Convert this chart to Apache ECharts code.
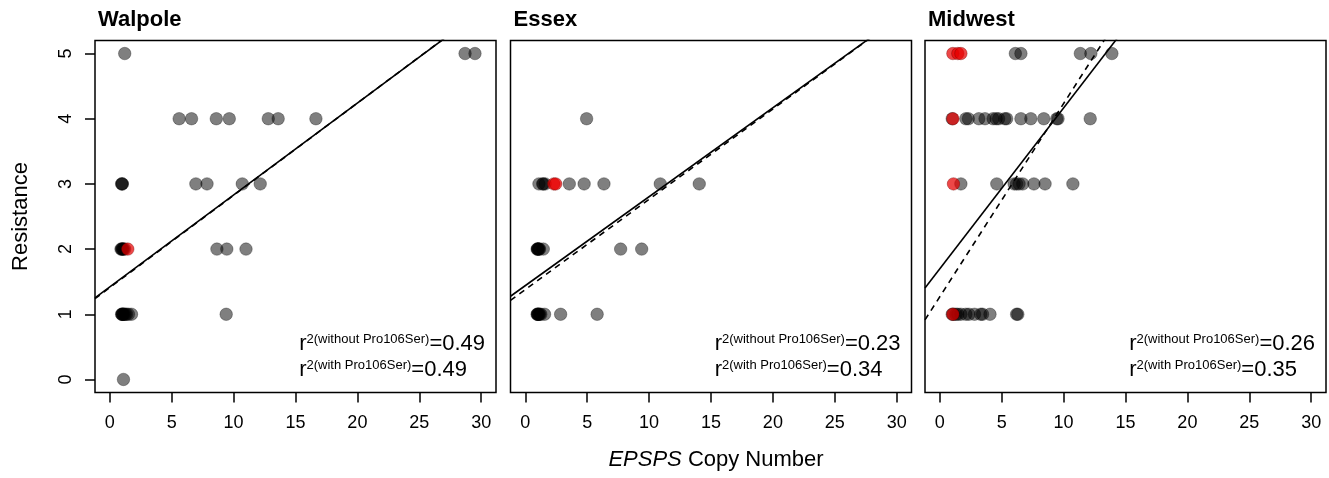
<!DOCTYPE html>
<html>
<head>
<meta charset="utf-8">
<script src="https://cdn.jsdelivr.net/npm/echarts@6/dist/echarts.min.js"></script>
<style>
  html, body { margin: 0; padding: 0; background: #fff; }
  #main { width: 1329px; height: 478px; }
</style>
</head>
<body>
<div id="main"></div>
<script>
// panels
var panelNames = ['Walpole', 'Essex', 'Midwest'];

// axis ticks / limits
var xTicks = [0, 5, 10, 15, 20, 25, 30];
var yTicks = [0, 1, 2, 3, 4, 5];
var xLim = [-1.2, 31.2];
var yLim = [-0.2, 5.2];

// EPSPS copy number vs resistance, gray = other plants, red = Pro106Ser
var walpoleGray = [
  [1.2, 5], [28.7, 5], [29.5, 5],
  [5.6, 4], [6.6, 4], [8.6, 4], [9.65, 4], [12.8, 4], [13.6, 4], [16.65, 4],
  [0.95, 3], [1.0, 3], [1.0, 3], [6.95, 3], [7.85, 3], [10.7, 3], [12.15, 3],
  [0.9, 2], [0.95, 2], [1.0, 2], [1.05, 2], [1.1, 2], [1.2, 2], [8.65, 2], [9.45, 2], [11.0, 2],
  [0.95, 1], [1.0, 1], [1.0, 1], [1.05, 1], [1.1, 1], [1.15, 1], [1.25, 1], [1.35, 1], [1.5, 1], [1.75, 1], [9.4, 1],
  [1.1, 0]
];
var walpoleRed = [[1.45, 2]];

var essexGray = [
  [4.95, 4],
  [1.1, 3], [1.4, 3], [1.45, 3], [1.6, 3], [3.55, 3], [4.75, 3], [6.35, 3], [10.9, 3], [14.05, 3],
  [0.95, 2], [1.0, 2], [1.0, 2], [1.05, 2], [1.1, 2], [1.15, 2], [1.45, 2], [7.7, 2], [9.4, 2],
  [0.95, 1], [1.0, 1], [1.0, 1], [1.05, 1], [1.1, 1], [1.15, 1], [1.25, 1], [1.55, 1], [2.85, 1], [5.8, 1]
];
var essexRed = [[2.3, 3], [2.45, 3]];

var midwestGray = [
  [6.1, 5], [6.55, 5], [11.35, 5], [12.2, 5], [13.9, 5],
  [1.0, 4], [2.1, 4], [2.3, 4], [3.15, 4], [3.65, 4], [4.3, 4], [4.55, 4], [4.75, 4], [5.25, 4], [5.4, 4],
  [6.55, 4], [7.35, 4], [8.4, 4], [9.45, 4], [9.55, 4], [12.15, 4],
  [1.7, 3], [4.6, 3], [6.0, 3], [6.2, 3], [6.4, 3], [6.7, 3], [7.6, 3], [8.5, 3], [10.75, 3],
  [1.0, 1], [1.1, 1], [1.3, 1], [1.45, 1], [1.7, 1], [2.1, 1], [2.35, 1], [2.8, 1], [3.3, 1], [3.45, 1], [4.05, 1], [6.2, 1], [6.3, 1]
];
var midwestRed = [[1.05, 5], [1.45, 5], [1.7, 5], [1.05, 4], [1.1, 3], [1.05, 1]];

// regression fits: [intercept, slope]
var fitWithout = [[1.42, 0.141], [1.44, 0.1364], [1.70, 0.2466]];
var fitWith = [[1.41, 0.1415], [1.38, 0.1384], [1.27, 0.2963]];

// r2 labels
var r2Without = ['0.49', '0.23', '0.26'];
var r2With = ['0.49', '0.34', '0.35'];

var grayData = [walpoleGray, essexGray, midwestGray];
var redData = [walpoleRed, essexRed, midwestRed];

var FONT = '"Liberation Sans", Arial, Helvetica, sans-serif';
var gridLefts = [95, 510.5, 925];

function fitLine(c) {
  return [[xLim[0], c[0] + c[1] * xLim[0]], [xLim[1], c[0] + c[1] * xLim[1]]];
}

var grids = [], xAxes = [], yAxes = [], series = [], titles = [];
for (var i = 0; i < 3; i++) {
  grids.push({
    left: gridLefts[i], top: 40.5, width: 401, height: 352,
    show: true, borderColor: '#000', borderWidth: 1.5, backgroundColor: 'transparent'
  });
  titles.push({
    text: panelNames[i], left: gridLefts[i] + 3, top: 9, padding: 0,
    textStyle: { fontFamily: FONT, fontSize: 22, fontWeight: 'bold', color: '#000' }
  });
  var xa = {
    type: 'value', gridIndex: i, min: xLim[0], max: xLim[1], position: 'bottom',
    axisLine: { show: false, onZero: false },
    splitLine: { show: false },
    axisTick: { show: true, inside: false, length: 10, customValues: xTicks, lineStyle: { color: '#000', width: 1.5 } },
    axisLabel: { customValues: xTicks, margin: 22, fontFamily: FONT, fontSize: 18, color: '#000' }
  };
  if (i === 1) {
    xa.name = '{i|EPSPS} Copy Number';
    xa.nameLocation = 'middle';
    xa.nameGap = 56;
    xa.nameTextStyle = {
      fontFamily: FONT, fontSize: 22, color: '#000', padding: [0, 0, 0, 10],
      rich: { i: { fontFamily: FONT, fontSize: 22, fontStyle: 'italic', color: '#000' } }
    };
  }
  xAxes.push(xa);
  var ya = {
    type: 'value', gridIndex: i, min: yLim[0], max: yLim[1], position: 'left',
    axisLine: { show: false, onZero: false },
    splitLine: { show: false },
    axisTick: { show: i === 0, inside: false, length: 10, customValues: yTicks, lineStyle: { color: '#000', width: 1.5 } },
    axisLabel: { show: i === 0, customValues: yTicks, rotate: 90, margin: 20, fontFamily: FONT, fontSize: 18, color: '#000' }
  };
  if (i === 0) {
    ya.name = 'Resistance';
    ya.nameLocation = 'middle';
    ya.nameGap = 63;
    ya.nameTextStyle = { fontFamily: FONT, fontSize: 22, color: '#000' };
  }
  yAxes.push(ya);

  series.push({
    type: 'scatter', xAxisIndex: i, yAxisIndex: i, data: grayData[i],
    symbolSize: 12.5, z: 2,
    itemStyle: { color: 'rgba(0,0,0,0.5)', borderColor: 'rgba(0,0,0,0.3)', borderWidth: 1, opacity: 1 },
    emphasis: { disabled: true }, silent: true
  });
  series.push({
    type: 'scatter', xAxisIndex: i, yAxisIndex: i, data: redData[i],
    symbolSize: 12.5, z: 3,
    itemStyle: { color: 'rgba(230,0,0,0.72)', borderColor: 'rgba(110,0,0,0.35)', borderWidth: 1, opacity: 1 },
    emphasis: { disabled: true }, silent: true
  });
  series.push({
    type: 'line', xAxisIndex: i, yAxisIndex: i, data: fitLine(fitWithout[i]),
    symbol: 'none', clip: true, z: 4, silent: true,
    lineStyle: { color: '#000', width: 1.6, type: 'solid' }
  });
  series.push({
    type: 'line', xAxisIndex: i, yAxisIndex: i, data: fitLine(fitWith[i]),
    symbol: 'none', clip: true, z: 4, silent: true,
    lineStyle: { color: '#000', width: 1.6, type: [6, 5] }
  });
}

var chart = echarts.init(document.getElementById('main'), null, { renderer: 'canvas' });
chart.setOption({
  backgroundColor: '#fff',
  animation: false,
  title: titles,
  grid: grids,
  xAxis: xAxes,
  yAxis: yAxes,
  series: series
});

// r2 annotations
var rich = {
  r: { fontFamily: FONT, fontSize: 22, lineHeight: 22, verticalAlign: 'bottom', fill: '#000' },
  s: { fontFamily: FONT, fontSize: 13, lineHeight: 13, verticalAlign: 'top', fill: '#000' }
};
var graphics = [];
for (var k = 0; k < 3; k++) {
  var p1 = chart.convertToPixel({ gridIndex: k }, [15.3, 0.37]);
  var p2 = chart.convertToPixel({ gridIndex: k }, [15.3, -0.03]);
  graphics.push({
    type: 'text', x: p1[0], y: p1[1], silent: true,
    style: {
      text: '{r|r}{s|2(without Pro106Ser)}{r|=' + r2Without[k] + '}',
      rich: rich, verticalAlign: 'bottom', align: 'left'
    }
  });
  graphics.push({
    type: 'text', x: p2[0], y: p2[1], silent: true,
    style: {
      text: '{r|r}{s|2(with Pro106Ser)}{r|=' + r2With[k] + '}',
      rich: rich, verticalAlign: 'bottom', align: 'left'
    }
  });
}
chart.setOption({ graphic: graphics });
</script>
</body>
</html>
